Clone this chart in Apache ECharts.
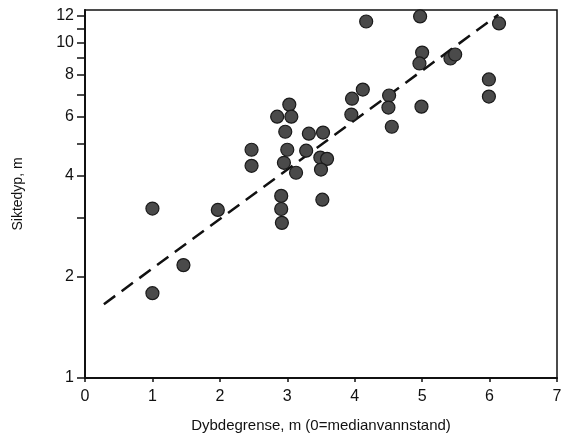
<!DOCTYPE html>
<html>
<head>
<meta charset="utf-8">
<script src="https://cdn.jsdelivr.net/npm/echarts@6/dist/echarts.min.js"></script>
<style>html,body{margin:0;padding:0;background:#fff}#c{width:565px;height:438px}</style>
</head>
<body>
<div id="c"></div>
<script>
// Data
var xVals = [1.0, 1.0, 1.46, 1.97, 2.47, 2.47,
  3.03, 2.85, 3.06, 2.97, 3.0, 2.95, 3.13, 2.91, 2.91, 2.92,
  3.32, 3.53, 3.28, 3.49, 3.59, 3.5, 3.52,
  3.95, 3.96, 4.12, 4.17,
  4.51, 4.5, 4.55,
  4.97, 5.0, 4.96, 4.99,
  5.42, 5.49,
  5.99, 5.99, 6.14];
var yVals = [3.2, 1.79, 2.17, 3.17, 4.79, 4.29,
  6.53, 6.01, 6.01, 5.42, 4.79, 4.38, 4.09, 3.49, 3.19, 2.90,
  5.35, 5.39, 4.76, 4.54, 4.50, 4.18, 3.40,
  6.1, 6.8, 7.24, 11.55,
  6.95, 6.4, 5.61,
  11.96, 9.33, 8.66, 6.44,
  8.96, 9.21,
  7.76, 6.9, 11.4];
var trendX = [0.28, 6.13];
var trendY = [1.66, 12.1];
var xTicks = [0, 1, 2, 3, 4, 5, 6, 7];
var yTickMarks = [1, 2, 3, 4, 5, 6, 7, 8, 9, 10, 11, 12];
var yTickLabels = [1, 2, 4, 6, 8, 10, 12];
var xTitle = 'Dybdegrense, m (0=medianvannstand)';
var yTitle = 'Siktedyp, m';

var pts = xVals.map(function (x, i) { return [x, yVals[i]]; });
var trend = trendX.map(function (x, i) { return [x, trendY[i]]; });
var font = "'Liberation Sans', Arial, sans-serif";

var chart = echarts.init(document.getElementById('c'), null, {renderer: 'canvas'});
chart.setOption({
  animation: false,
  backgroundColor: '#fff',
  grid: {left: 85, right: 8, top: 10, bottom: 60, show: true, borderColor: '#111', borderWidth: 1.5, backgroundColor: 'transparent'},
  xAxis: {
    type: 'value', min: 0, max: 7, interval: 1,
    name: xTitle, nameLocation: 'middle', nameGap: 40,
    nameTextStyle: {fontFamily: font, fontSize: 15, color: '#111'},
    axisLine: {show: true, onZero: false, lineStyle: {color: '#111', width: 2}},
    axisTick: {show: true, inside: false, length: 4, lineStyle: {color: '#111', width: 1.5}, customValues: xTicks},
    axisLabel: {fontFamily: font, fontSize: 16, color: '#111', margin: 11, customValues: xTicks},
    splitLine: {show: false}
  },
  yAxis: {
    type: 'log', logBase: 10, min: 1, max: 12.5,
    name: yTitle, nameLocation: 'middle', nameGap: 60, nameRotate: 90,
    nameTextStyle: {fontFamily: font, fontSize: 14, color: '#111'},
    axisLine: {show: true, lineStyle: {color: '#111', width: 2}},
    axisTick: {show: true, inside: false, length: 8, lineStyle: {color: '#111', width: 1.5}, customValues: yTickMarks},
    axisLabel: {fontFamily: font, fontSize: 16, color: '#111', margin: 11, customValues: yTickLabels},
    minorTick: {show: false},
    splitLine: {show: false}
  },
  series: [
    {
      type: 'line', data: trend, symbol: 'none', z: 1,
      lineStyle: {color: '#111', width: 2.5, type: [14, 8]}
    },
    {
      type: 'scatter', data: pts, symbol: 'circle', symbolSize: 13, z: 2,
      itemStyle: {color: '#4a4a4a', borderColor: '#1a1a1a', borderWidth: 1.2, opacity: 1}
    }
  ]
});
</script>
</body>
</html>
